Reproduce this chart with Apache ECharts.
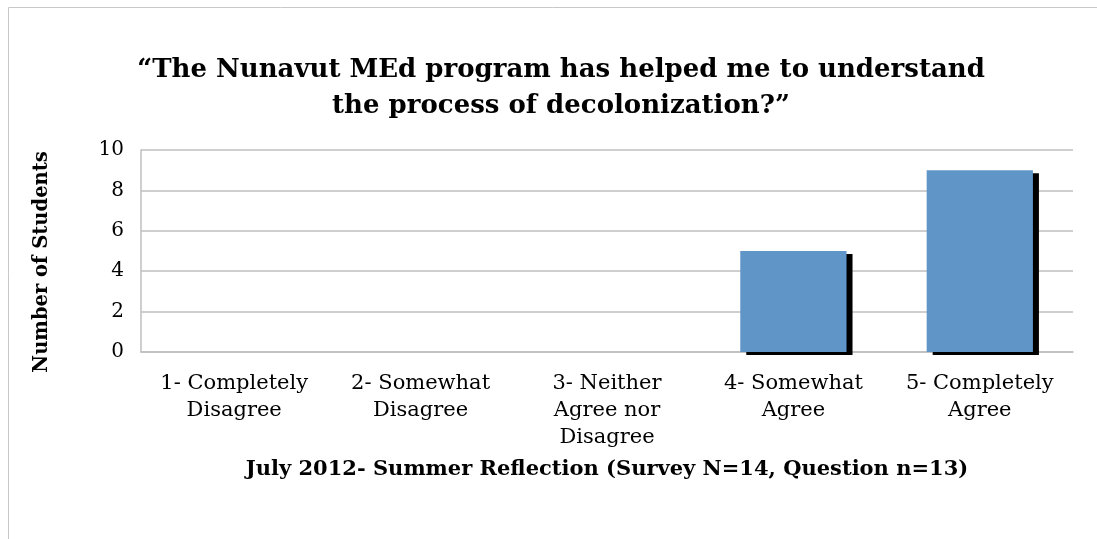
<!DOCTYPE html>
<html>
<head>
<meta charset="utf-8">
<script src="https://cdn.jsdelivr.net/npm/echarts@6/dist/echarts.min.js"></script>
<style>
  html, body { margin: 0; padding: 0; background: #fff; }
  #main { width: 1097px; height: 539px; }
</style>
</head>
<body>
<div id="main"></div>
<script>
// data
var categories = [
    '1- Completely\nDisagree',
    '2- Somewhat\nDisagree',
    '3- Neither\nAgree nor\nDisagree',
    '4- Somewhat\nAgree',
    '5- Completely\nAgree'
];
var students = [0, 0, 0, 5, 9];
var titleText = '\u201cThe Nunavut MEd program has helped me to understand\nthe process of decolonization?\u201d';
var xName = 'July 2012- Summer Reflection (Survey N=14, Question n=13)';
var yName = 'Number of Students';

var serif = '"DejaVu Serif", "Liberation Serif", serif';

// empty bars get no shadow so nothing is drawn for them
var barData = students.map(function (v) {
    if (v === 0) {
        return { value: v, itemStyle: { shadowColor: 'rgba(0,0,0,0)' } };
    }
    return v;
});

var chart = echarts.init(document.getElementById('main'));
chart.setOption({
    animation: false,
    title: {
        text: titleText,
        left: 556,
        top: 47,
        textAlign: 'center',
        textStyle: {
            fontFamily: serif,
            fontWeight: 'bold',
            fontSize: 26,
            lineHeight: 36,
            color: '#000'
        }
    },
    graphic: [{
        type: 'polyline',
        shape: { points: [[8.5, 539], [8.5, 7.5], [1097, 7.5]] },
        style: { stroke: '#c8c8c8', lineWidth: 1, fill: null },
        silent: true
    }],
    grid: {
        left: 141,
        right: 24,
        top: 150,
        bottom: 187
    },
    xAxis: {
        type: 'category',
        data: categories,
        name: xName,
        nameLocation: 'middle',
        nameGap: 107,
        nameTextStyle: {
            fontFamily: serif,
            fontWeight: 'bold',
            fontSize: 21,
            color: '#000'
        },
        axisLine: { show: true, lineStyle: { color: '#bfbfbf', width: 1.5 } },
        axisTick: { show: false },
        axisLabel: {
            interval: 0,
            margin: 18,
            fontFamily: serif,
            fontSize: 21,
            lineHeight: 27,
            color: '#000'
        }
    },
    yAxis: {
        type: 'value',
        min: 0,
        max: 10,
        interval: 2,
        name: yName,
        nameLocation: 'middle',
        nameGap: 89,
        nameTextStyle: {
            fontFamily: serif,
            fontWeight: 'bold',
            fontSize: 19.5,
            color: '#000',
            padding: [0, 22, 0, 0]
        },
        axisLine: { show: true, lineStyle: { color: '#bfbfbf', width: 1.5 } },
        axisTick: { show: false },
        splitLine: { lineStyle: { color: '#bfbfbf', width: 1.5 } },
        axisLabel: {
            margin: 17,
            fontFamily: serif,
            fontSize: 20,
            color: '#000'
        }
    },
    series: [{
        type: 'bar',
        data: barData,
        barWidth: '57%',
        itemStyle: {
            color: '#5f95c7',
            shadowColor: '#000',
            shadowBlur: 0,
            shadowOffsetX: 6,
            shadowOffsetY: 3
        }
    }]
});
</script>
</body>
</html>
